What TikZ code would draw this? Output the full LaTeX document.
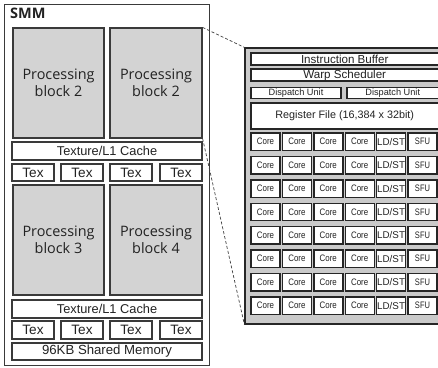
\documentclass[tikz,border=0pt]{standalone}
\usepackage{fontspec}
\setmainfont{Liberation Sans}
\newfontfamily\blockfont{Open Sans}
\usepackage{graphicx}

\definecolor{edge}{HTML}{3A3A3A}
\definecolor{blockgray}{HTML}{D3D3D3}
\definecolor{panelgray}{HTML}{CACACA}
\definecolor{ink}{HTML}{222222}

\begin{document}
\begin{tikzpicture}[x=1pt,y=-1pt,
  box/.style={draw=edge, line width=1.2pt, fill=white, inner sep=0pt, text=ink, anchor=center},
  pblock/.style={box, fill=blockgray, align=center,
    font=\blockfont\fontsize{14.4}{17}\selectfont},
  wide/.style={box, font=\fontsize{12.8}{15}\selectfont},
  texbox/.style={box, minimum width=42, minimum height=17, font=\fontsize{13.6}{15}\selectfont},
  pbox/.style={box, line width=1.4pt, draw=black!85},
  cell/.style={pbox, minimum width=29, minimum height=17.5},
  link/.style={draw=black!75, line width=0.7pt, dash pattern=on 3pt off 2pt}
]
\useasboundingbox (0,0) rectangle (438,367);
\clip (0,0) rectangle (438,367);

% streaming multiprocessor outline
\node[draw=edge, line width=1pt, minimum width=205, minimum height=361, inner sep=0pt] (smm) at (106.5,184.5) {};
\node[anchor=north west, inner sep=0pt, text=ink, font=\blockfont\bfseries\fontsize{14.5}{17}\selectfont] (smmlabel) at (10,8) {SMM};

% upper half
\node[pblock, minimum width=91, minimum height=110] (pb1) at (58.5,83) {Processing\\block 2};
\node[pblock, minimum width=92, minimum height=110] (pb2) at (156,83) {Processing\\block 2};
\node[wide, minimum width=190, minimum height=18] (tl1) at (107,151) {Texture/L1 Cache};
\node[texbox] (tex1a) at (33,172.5) {Tex};
\node[texbox] (tex1b) at (82,172.5) {Tex};
\node[texbox] (tex1c) at (131,172.5) {Tex};
\node[texbox] (tex1d) at (181,172.5) {Tex};

% lower half
\node[pblock, minimum width=91, minimum height=110] (pb3) at (58.5,240) {Processing\\block 3};
\node[pblock, minimum width=92, minimum height=110] (pb4) at (156,240) {Processing\\block 4};
\node[wide, minimum width=190, minimum height=18] (tl2) at (107,309) {Texture/L1 Cache};
\node[texbox, minimum height=18] (tex2a) at (33,330) {Tex};
\node[texbox, minimum height=18] (tex2b) at (82,330) {Tex};
\node[texbox, minimum height=18] (tex2c) at (131,330) {Tex};
\node[texbox, minimum height=18] (tex2d) at (181,330) {Tex};
\node[wide, minimum width=190, minimum height=17, font=\fontsize{13.2}{15}\selectfont] (shm) at (107,351.5) {96KB Shared Memory};

% processing block detail
\node[draw=black!85, line width=1.2pt, fill=panelgray, minimum width=199, minimum height=276, inner sep=0pt] (panel) at (344.5,186) {};
\node[pbox, minimum width=187.5, minimum height=12, font=\fontsize{11.6}{13}\selectfont] (ib) at (344.75,59) {Instruction Buffer};
\node[pbox, minimum width=187.5, minimum height=12, font=\fontsize{11.6}{13}\selectfont] (ws) at (344.75,75) {Warp Scheduler};
\node[pbox, minimum width=90, minimum height=10.5, font=\fontsize{9.2}{11}\selectfont] (du1) at (296,93) {Dispatch Unit};
\node[pbox, minimum width=91.5, minimum height=10.5, font=\fontsize{9.2}{11}\selectfont] (du2) at (392.75,93) {Dispatch Unit};
\node[pbox, minimum width=187.5, minimum height=26, font=\fontsize{10.8}{13}\selectfont] (rf) at (344.75,116) {Register File (16,384 x 32bit)};

\foreach \j in {0,...,7}{
  \foreach \i in {0,...,3}{
    \node[cell, font=\fontsize{9.4}{10}\selectfont] (core-\j-\i) at ({265.5+31.4*\i},{141.75+23.4*\j}) {\scalebox{0.84}[1]{Core}};
  }
  \node[cell, font=\fontsize{9.8}{10}\selectfont] (ldst-\j) at ({265.5+31.4*4},{141.75+23.4*\j}) {LD/ST};
  \node[cell, font=\fontsize{9.4}{10}\selectfont] (sfu-\j) at ({265.5+31.4*5},{141.75+23.4*\j}) {\scalebox{0.8}[1]{SFU}};
}

% zoom lines
\draw[link] (pb2.north east) -- (panel.north west);
\draw[link] (pb2.south east) -- (panel.south west);
\end{tikzpicture}
\end{document}
